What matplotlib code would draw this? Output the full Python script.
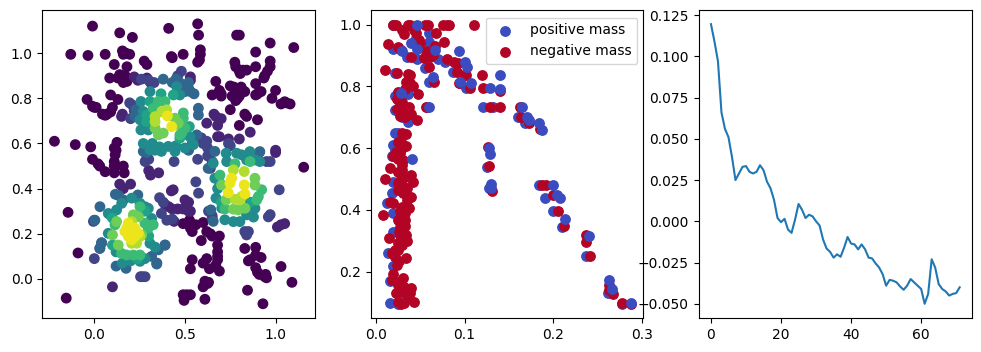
import matplotlib
matplotlib.use("Agg")
import matplotlib.pyplot as plt

W, H = 981, 352

# Panel 1: points grouped by colour level
density_00 = [(-0.01,1.12),(0.14,1.09),(0.21,1.07),(0.41,1.11),(0.57,1.13),(0.575,1.08),(0.785,1.08),(0.80,1.08),(0.97,1.045),(1.10,1.025),(-0.13,0.995),(-0.035,0.99),(0.06,0.995),(0.155,1.01),(0.16,0.995),(0.195,0.995),(0.175,1.0),(0.11,0.95),(0.18,0.94),(0.275,0.965),(0.29,0.95),(0.425,0.985),(0.43,0.98),(0.49,0.995),(0.585,1.015),(0.585,0.995),(0.58,0.97),(0.57,0.96),(0.89,1.005),
 (0.775,0.96),(0.78,0.94),(0.80,0.92),(0.805,0.91),(0.82,0.925),(0.84,0.925),(0.89,0.94),(0.97,0.965),(0.97,0.94),(0.955,0.92),(0.94,0.90),(0.935,0.89),(0.89,0.865),(0.67,0.875),(0.75,0.855),(0.77,0.85),(0.78,0.84),(0.80,0.835),(0.81,0.85),(0.92,0.83),(0.90,0.82),(0.89,0.815),(1.0,0.835),(0.98,0.80),(1.03,0.775),(1.05,0.785),(1.06,0.78),(1.08,0.775),(0.65,0.815),(0.69,0.835),(0.70,0.82),(0.70,0.81),(0.76,0.81),(0.78,0.80),(0.79,0.80),(0.80,0.81),(0.78,0.79),(0.83,0.83),
 (0.75,0.75),(0.83,0.73),(0.84,0.72),(0.90,0.705),(0.80,0.68),
 (-0.04,0.795),(-0.01,0.765),(0.0,0.76),(0.01,0.76),(0.045,0.73),(0.06,0.725),(0.07,0.73),(0.09,0.74),(0.10,0.76),(0.09,0.815),(0.13,0.795),
 (0.085,0.89),(0.13,0.89),(0.14,0.905),(0.17,0.90),(0.18,0.875),(0.16,0.87),
 (-0.22,0.61),(-0.105,0.595),(-0.02,0.585),(0.11,0.58),(0.125,0.605),(0.12,0.57),(0.115,0.55),(-0.01,0.53),(0.02,0.51),(0.03,0.50),(0.06,0.475),(0.11,0.52),(0.11,0.50),(0.12,0.50),(0.16,0.50),(0.11,0.47),(0.165,0.47),
 (1.155,0.495),(-0.145,0.295),(-0.09,0.115),(-0.155,-0.085),
 (0.49,0.245),(0.525,0.26),(0.53,0.225),(0.54,0.21),(0.56,0.24),(0.60,0.25),(0.59,0.17),(0.62,0.21),(0.65,0.19),(0.64,0.20),(0.69,0.19),(0.68,0.15),(0.68,0.12),(0.68,0.10),(0.68,0.085),(0.62,0.09),(0.60,0.07),(0.67,0.06),(0.69,0.035),(0.54,0.085),(0.53,0.045),(0.61,-0.01),(0.625,-0.02),(0.63,-0.015),(0.60,-0.035),(0.49,-0.07),(0.51,-0.07),(0.53,-0.07),(0.495,-0.095),(0.61,-0.09),(0.845,-0.05),(0.93,-0.11),(1.09,-0.015),(1.03,0.055),(0.83,0.135),(0.89,0.14),(0.89,0.105),(0.92,0.095),(0.86,0.085),(0.85,0.08),(0.89,0.05),(0.90,0.03),(0.91,0.02),(0.945,0.02),(0.94,0.01),(0.95,0.005),(0.635,0.045)]
density_10 = [(0.10,-0.035),(0.425,0.39),(0.435,0.395),(0.44,0.255),(0.50,0.35),(0.52,0.34),(0.51,0.32),(0.53,0.30),(0.43,0.31),(0.41,0.32),(0.46,0.31),(0.39,0.33),(0.49,0.31),(0.52,0.30),
 (0.31,0.46),(0.30,0.48),(0.355,0.47),(0.14,0.42),(0.20,0.42),(0.16,0.40),(0.29,0.89),(0.31,0.87),(0.22,0.895),(0.24,0.88),(0.53,0.895),(0.53,0.88),
 (0.66,0.73),(0.67,0.72),(0.70,0.71),(0.68,0.68),(0.62,0.69),(0.74,0.62),(0.80,0.62),(0.86,0.65),(0.68,0.63),(0.69,0.63),(0.155,0.73),(0.15,0.72),(1.01,0.23),(1.03,0.24),(1.05,0.245),(1.0,0.56),(1.0,0.57)]
density_20 = [(0.62,0.61),(0.60,0.60),(0.59,0.625),(0.625,0.58),(0.64,0.56),(0.625,0.545),(0.65,0.52),(0.64,0.49),(0.57,0.53),(0.20,0.71),(0.22,0.745),(0.21,0.77),(0.195,0.78),(0.26,0.885),(0.30,0.88),(0.48,0.92),(0.46,0.90),(0.33,0.87),
 (0.56,0.43),(0.575,0.38),(0.36,0.36),(0.38,0.34),(0.37,0.29),(0.40,0.26),(0.43,0.265),(0.0,0.26),(-0.005,0.255),(0.0,0.09),(0.03,0.135),(0.04,0.16),(0.255,0.01),(0.265,0.01),(0.28,0.01),
 (1.02,0.395),(0.97,0.285),(0.96,0.275),(0.83,0.21),(0.84,0.195),(0.85,0.21),(0.97,0.52),(0.95,0.52),(0.91,0.56),(0.63,0.30),(0.65,0.28),(0.65,0.27),
 (0.30,0.53),(0.28,0.52),(0.29,0.54),(0.44,0.52),(0.74,0.60),(0.75,0.59),(0.39,0.15),(0.345,0.07)]
density_35 = [(0.38,0.885),(0.43,0.87),(0.45,0.885),(0.47,0.87),(0.52,0.87),(0.52,0.845),(0.53,0.83),(0.55,0.82),(0.48,0.86),(0.5,0.83),(0.574,0.756),(0.574,0.726),(0.224,0.72),(0.23,0.75),(0.565,0.638),
 (0.54,0.60),(0.52,0.57),(0.27,0.565),(0.29,0.56),(0.913,0.564),(0.665,0.565),(0.628,0.49),(0.643,0.306),(0.656,0.255),
 (0.12,0.057),(0.175,0.047),(0.344,0.066),(0.316,0.1),(0.353,0.129),(0.39,0.15),(0.031,0.32),(0.133,0.37),(0.116,0.375),(0.24,0.372),(0.16,0.35),(0.04,0.16),(0.031,0.137),(0.003,0.26)]
density_50 = [(0.307,0.83),(0.472,0.815),(0.454,0.852),(0.257,0.786),(0.27,0.742),(0.252,0.705),(0.257,0.66),(0.298,0.66),(0.27,0.60),(0.334,0.57),(0.37,0.565),(0.307,0.572),(0.408,0.587),(0.445,0.565),(0.5,0.58),(0.546,0.595),(0.527,0.63),(0.32,0.60),(0.36,0.585),(0.45,0.59),
 (0.727,0.557),(0.73,0.52),(0.665,0.446),(0.693,0.424),(0.671,0.358),(0.703,0.314),(0.886,0.313),(0.84,0.284),(0.767,0.254),(0.803,0.254),(0.72,0.262),(0.878,0.274),(0.785,0.557),(0.812,0.55),(0.858,0.564),(0.84,0.527),(0.886,0.527),(0.913,0.52),(0.656,0.513),(0.68,0.40),
 (0.077,0.202),(0.123,0.306),(0.279,0.32),(0.298,0.313),(0.316,0.268),(0.307,0.158),(0.279,0.09),(0.252,0.078),(0.155,0.07),(0.087,0.284),(0.151,0.335),(0.206,0.358),(0.252,0.335),(0.077,0.29),(0.335,0.141),(0.20,0.08),(0.12,0.12)]
density_60 = [(0.436,0.815),(0.368,0.82),(0.307,0.786),(0.288,0.697),(0.288,0.726),(0.524,0.675),(0.472,0.624),(0.70,0.34),(0.86,0.34),(0.10,0.27),(0.10,0.15),(0.28,0.30),(0.30,0.19),(0.24,0.09)]
density_68 = [(0.491,0.735),(0.491,0.712),(0.325,0.756),(0.39,0.786),(0.353,0.786),(0.472,0.638),(0.5,0.668),(0.482,0.646),
 (0.693,0.46),(0.776,0.51),(0.859,0.52),(0.923,0.395),(0.905,0.365),(0.896,0.35),(0.72,0.31),
 (0.15,0.113),(0.178,0.106),(0.215,0.106),(0.252,0.106),(0.114,0.24),(0.252,0.32),(0.279,0.247),(0.298,0.225),(0.325,0.24)]
density_78 = [(0.353,0.638),(0.38,0.646),(0.335,0.668),(0.445,0.683),(0.463,0.69),(0.445,0.712),
 (0.702,0.416),(0.727,0.35),(0.886,0.446),(0.886,0.416),(0.831,0.313),(0.794,0.306),(0.767,0.309),
 (0.215,0.284),(0.243,0.276),(0.123,0.254),(0.1,0.195),(0.132,0.15),(0.261,0.195)]
density_88 = [(0.335,0.719),(0.3715,0.741),(0.399,0.749),(0.335,0.697),(0.767,0.483),(0.827,0.476),(0.803,0.35),(0.776,0.353),(0.813,0.365),
 (0.206,0.254),(0.233,0.158),(0.252,0.188),(0.206,0.158)]
density_97 = [(0.403,0.722),(0.427,0.675),(0.827,0.4165),(0.831,0.3766),(0.739,0.382),(0.7575,0.446),(0.748,0.424),
 (0.178,0.2247),(0.188,0.188),(0.206,0.173),(0.224,0.2247),(0.243,0.202),(0.224,0.188),(0.169,0.21),(0.188,0.247)]
density_groups = [(0.0, density_00), (0.10, density_10), (0.20, density_20), (0.33, density_35), (0.48, density_50),
                  (0.58, density_60), (0.68, density_68), (0.78, density_78), (0.88, density_88), (0.97, density_97)]

# Panel 2: positive mass (under / over the negative series) and negative mass
positive_under = [(0.0195,0.998),(0.06,0.972),(0.045,0.955),(0.06,0.945),(0.02,0.92),(0.035,0.895),(0.047,0.89),(0.07,0.89),(0.078,0.88),(0.055,0.86),(0.087,0.845),(0.022,0.842),(0.06,0.815),(0.095,0.81),(0.102,0.795),(0.121,0.732),(0.132,0.732),(0.058,0.732),(0.16,0.70),(0.168,0.68),(0.036,0.775),(0.022,0.77),(0.022,0.725),(0.036,0.685),(0.03,0.70),(0.0217,0.648),(0.125,0.54),(0.128,0.47),(0.184,0.48),(0.19,0.44),(0.199,0.397),(0.21,0.345),(0.237,0.252),(0.261,0.13),(0.277,0.095),(0.02,0.61),(0.022,0.59),(0.018,0.573),(0.0198,0.49),(0.018,0.454),(0.0124,0.424),(0.02,0.39),(0.02,0.33),(0.0143,0.26),(0.02,0.22),(0.016,0.17),(0.016,0.1),(0.025,0.095),(0.029,0.13),(0.025,0.65),(0.03,0.64)]
positive_over = [(0.047,1.0),(0.04,0.94),(0.046,0.92),(0.03,0.915),(0.067,0.917),(0.094,0.914),(0.1,0.878),(0.103,0.862),(0.14,0.838),(0.065,0.83),(0.095,0.814),(0.107,0.81),(0.129,0.795),(0.14,0.79),(0.06,0.732),(0.165,0.732),(0.17,0.70),(0.172,0.69),(0.184,0.68),(0.187,0.66),(0.029,0.778),(0.128,0.602),(0.129,0.58),(0.13,0.485),(0.13,0.472),(0.199,0.48),(0.204,0.448),(0.207,0.44),(0.213,0.37),(0.24,0.316),(0.262,0.172),(0.266,0.145),(0.287,0.1),(0.0405,0.564)]
negative = [(0.02,1.0),(0.0225,1.0),(0.036,1.0),(0.039,1.0),(0.055,1.0),(0.059,1.0),(0.076,1.0),(0.08,1.0),(0.0825,1.0),(0.111,1.0),(0.03,0.983),(0.032,0.969),(0.043,0.983),(0.045,0.972),(0.049,0.95),(0.05,0.94),(0.068,0.973),(0.077,0.943),(0.014,0.937),(0.0255,0.926),(0.029,0.916),(0.04,0.896),(0.054,0.891),(0.061,0.896),(0.065,0.902),(0.067,0.929),(0.057,0.913),(0.08,0.888),(0.088,0.878),(0.093,0.875),
 (0.011,0.852),(0.024,0.842),(0.036,0.84),(0.039,0.837),(0.06,0.861),(0.091,0.845),(0.099,0.837),(0.102,0.837),(0.12,0.838),(0.066,0.815),(0.094,0.81),(0.106,0.794),(0.121,0.794),(0.14,0.786),
 (0.034,0.815),(0.039,0.81),(0.042,0.801),(0.048,0.774),(0.0255,0.783),(0.024,0.76),(0.027,0.745),(0.024,0.726),(0.037,0.732),(0.029,0.724),(0.027,0.704),(0.04,0.711),(0.047,0.69),(0.033,0.70),(0.057,0.732),(0.033,0.79),(0.03,0.75),(0.03,0.73),
 (0.129,0.732),(0.14,0.732),(0.162,0.732),(0.164,0.702),(0.173,0.681),(0.185,0.661),(0.126,0.604),(0.127,0.543),(0.1305,0.4615),(0.187,0.48),(0.192,0.48),(0.2,0.449),(0.205,0.398),(0.212,0.348),(0.237,0.319),(0.237,0.295),(0.241,0.252),(0.262,0.157),(0.262,0.141),(0.267,0.128),(0.277,0.10),(0.287,0.096),
 (0.030,0.648),(0.034,0.645),(0.0256,0.62),(0.034,0.607),(0.028,0.62),(0.03,0.60),(0.023,0.589),(0.027,0.583),(0.0198,0.573),(0.025,0.565),(0.031,0.562),(0.0296,0.546),(0.016,0.535),(0.03,0.53),(0.0256,0.524),(0.04,0.513),(0.033,0.508),(0.0105,0.499),(0.028,0.50),(0.0424,0.49),(0.0256,0.486),(0.0296,0.481),(0.035,0.47),(0.0256,0.465),(0.032,0.46),(0.031,0.454),(0.04,0.443),(0.035,0.433),(0.016,0.427),(0.02,0.424),(0.03,0.41),(0.038,0.405),(0.027,0.395),(0.033,0.389),(0.0086,0.383),(0.0256,0.368),(0.03,0.37),(0.033,0.368),(0.033,0.348),(0.027,0.346),(0.03,0.335),(0.026,0.33),(0.027,0.319),(0.034,0.319),(0.015,0.308),(0.029,0.303),(0.035,0.298),(0.0255,0.292),(0.03,0.285),(0.0255,0.27),(0.022,0.27),(0.018,0.26),(0.022,0.249),(0.034,0.244),(0.026,0.235),(0.024,0.222),(0.02,0.192),(0.018,0.173),(0.028,0.17),(0.031,0.179),(0.04,0.146),(0.0255,0.157),(0.032,0.152),(0.023,0.132),(0.032,0.135),(0.039,0.13),(0.036,0.12),(0.0255,0.103),(0.032,0.10),(0.028,0.095),(0.043,0.101)]

# Panel 3: line values by step
loss = [0.1195,0.109,0.097,0.066,0.056,0.051,0.039,0.025,0.029,0.033,0.0335,0.030,0.029,0.030,0.034,0.031,0.024,0.020,0.013,0.002,
        -0.0005,0.0015,-0.005,-0.007,0.001,0.0105,0.007,0.002,0.004,0.003,0.000,-0.0025,-0.011,-0.0165,-0.0185,-0.022,-0.020,-0.0215,-0.016,-0.0095,
        -0.0135,-0.014,-0.017,-0.014,-0.017,-0.022,-0.0225,-0.0255,-0.028,-0.032,-0.039,-0.0355,-0.036,-0.037,-0.0395,-0.0415,-0.039,-0.035,-0.037,-0.039,
        -0.041,-0.050,-0.044,-0.023,-0.028,-0.038,-0.041,-0.0425,-0.045,-0.044,-0.0435,-0.040]


def box(left, right, top=10.3, bottom=318.0):
    return [left / W, 1 - bottom / H, (right - left) / W, (bottom - top) / H]


MARKER_AREA = 46
fig = plt.figure(figsize=(W / 100, H / 100), dpi=100)

ax1 = fig.add_axes(box(42.3, 315.3))
xs, ys, cs = [], [], []
for level, pts in density_groups:
    xs += [p[0] for p in pts]
    ys += [p[1] for p in pts]
    cs += [level] * len(pts)
ax1.scatter(xs, ys, c=cs, cmap="viridis", vmin=0, vmax=1, s=MARKER_AREA)
ax1.set_xlim(-0.287, 1.219)
ax1.set_ylim(-0.173, 1.19)

ax2 = fig.add_axes(box(370.7, 643.0))
pos_h = ax2.scatter(*zip(*positive_under), color="#3b4cc0", label="positive mass", s=MARKER_AREA)
neg_h = ax2.scatter(*zip(*negative), color="#b40426", label="negative mass", s=MARKER_AREA)
ax2.scatter(*zip(*positive_over), color="#3b4cc0", s=MARKER_AREA)
ax2.set_xlim(-0.0056, 0.3007)
ax2.set_ylim(0.0504, 1.046)
ax2.legend(handles=[pos_h, neg_h], loc="upper right",
           bbox_to_anchor=(1 - 5.7 / 272.3, 1 - 7.4 / 307.7), borderaxespad=0)

ax3 = fig.add_axes(box(698.7, 972.3))
ax3.plot(range(len(loss)), loss, color="#1f77b4")
ax3.set_xlim(-3.5, 74.6)
ax3.set_ylim(-0.0586, 0.1279)

fig.savefig("out.png", dpi=100)
